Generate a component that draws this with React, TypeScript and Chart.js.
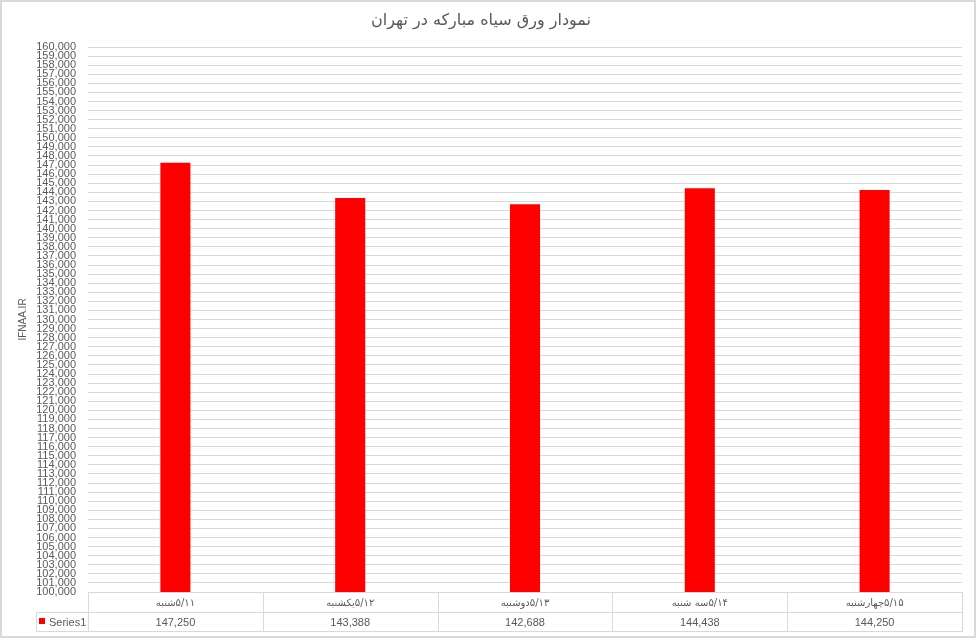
import React, { useEffect, useRef } from "react";
import { Chart, registerables } from "chart.js";

Chart.register(...registerables);

const TITLE = "نمودار ورق سیاه مبارکه در تهران";
const Y_TITLE = "IFNAA.IR";
const SERIES_NAME = "Series1";
const CATEGORIES = ["۵/۱۱شنبه", "۵/۱۲یکشنبه", "۵/۱۳دوشنبه", "۵/۱۴سه شنبه", "۵/۱۵چهارشنبه"];
const VALUES = [147250, 143388, 142688, 144438, 144250];
const Y_MIN = 100000;
const Y_MAX = 160000;
const Y_STEP = 1000;

const TEXT_COLOR = "#595959";
const GRID_COLOR = "#d9d9d9";
const BAR_COLOR = "#ff0000";
const FONT_FAMILY = "'Liberation Sans', 'DejaVu Sans', sans-serif";

const fmt = (v: number) => v.toLocaleString("en-US");

const tablePlugin = {
  id: "dataTable",
  afterDraw(chart: any) {
    const { ctx, chartArea } = chart;
    const xScale = chart.scales.x;
    const labels: string[] = chart.data.labels;
    const values: number[] = chart.data.datasets[0].data;
    const n = labels.length;
    const left = Math.round(chartArea.left);
    const right = Math.round(chartArea.right);
    const colW = (right - left) / n;
    const top = Math.round(chartArea.bottom);
    const rowH = 19.5;
    const mid = Math.round(top + rowH);
    const bottom = Math.round(top + 2 * rowH);
    const legendLeft = 36;

    const line = (x1: number, y1: number, x2: number, y2: number) => {
      ctx.beginPath();
      ctx.moveTo(x1, y1);
      ctx.lineTo(x2, y2);
      ctx.stroke();
    };

    ctx.save();
    ctx.strokeStyle = GRID_COLOR;
    ctx.lineWidth = 1;
    line(left, top + 0.5, right, top + 0.5);
    line(legendLeft, mid + 0.5, right, mid + 0.5);
    line(legendLeft, bottom + 0.5, right, bottom + 0.5);
    for (let i = 0; i <= n; i++) {
      const x = Math.round(left + i * colW) + 0.5;
      line(x, top, x, bottom + 1);
    }
    line(legendLeft + 0.5, mid, legendLeft + 0.5, bottom + 1);

    ctx.fillStyle = TEXT_COLOR;
    ctx.textBaseline = "middle";
    ctx.textAlign = "center";
    for (let i = 0; i < n; i++) {
      const cx = xScale.getPixelForValue(i);
      ctx.font = `10px 'DejaVu Sans', sans-serif`;
      (ctx as any).direction = "rtl";
      ctx.fillText(labels[i], cx, (top + mid) / 2 + 1);
      (ctx as any).direction = "ltr";
      ctx.font = `11px ${FONT_FAMILY}`;
      ctx.fillText(fmt(values[i]), cx, (mid + bottom) / 2 + 1);
    }
    ctx.fillStyle = BAR_COLOR;
    ctx.fillRect(39, 618, 6, 6);
    ctx.fillStyle = TEXT_COLOR;
    ctx.textAlign = "left";
    ctx.font = `11px ${FONT_FAMILY}`;
    ctx.fillText(SERIES_NAME, 49, (mid + bottom) / 2 + 1);

    // outer chart border
    ctx.strokeStyle = GRID_COLOR;
    ctx.lineWidth = 2;
    ctx.strokeRect(1, 1, 974, 636);
    ctx.restore();
  },
};

export default function App() {
  const canvasRef = useRef<HTMLCanvasElement | null>(null);

  useEffect(() => {
    if (!canvasRef.current) return;
    const chart = new Chart(canvasRef.current, {
      type: "bar",
      data: {
        labels: CATEGORIES,
        datasets: [
          {
            label: SERIES_NAME,
            data: VALUES,
            backgroundColor: BAR_COLOR,
            borderWidth: 0,
            categoryPercentage: 1,
            barPercentage: 0.172,
          },
        ],
      },
      options: {
        animation: false,
        responsive: true,
        maintainAspectRatio: false,
        layout: { padding: { left: 0, right: 15, top: 0, bottom: 8 } },
        plugins: {
          legend: { display: false },
          tooltip: { enabled: false },
          title: {
            display: true,
            text: TITLE,
            color: TEXT_COLOR,
            font: { family: "'DejaVu Sans', sans-serif", size: 16, weight: "normal" },
            padding: { top: 11, bottom: 16.8 },
          },
        },
        scales: {
          x: {
            ticks: { display: false },
            grid: { display: false, drawTicks: false },
            border: { display: false },
            afterFit: (scale: any) => {
              scale.height = 39;
            },
          },
          y: {
            min: Y_MIN,
            max: Y_MAX,
            ticks: {
              stepSize: Y_STEP,
              autoSkip: false,
              padding: 12,
              color: TEXT_COLOR,
              font: { family: FONT_FAMILY, size: 11 },
              callback: (v: any) => fmt(Number(v)),
            },
            grid: { color: GRID_COLOR, drawTicks: false, lineWidth: 1 },
            border: { display: false },
            title: {
              display: true,
              text: Y_TITLE,
              color: TEXT_COLOR,
              font: { family: FONT_FAMILY, size: 10 },
              padding: { top: 17, bottom: 0 },
            },
            afterFit: (scale: any) => {
              scale.width = 88;
            },
          },
        },
      },
      plugins: [tablePlugin],
    });
    return () => chart.destroy();
  }, []);

  return (
    <div style={{ position: "absolute", left: 0, top: 0, width: 977, height: 639 }}>
      <canvas ref={canvasRef} />
    </div>
  );
}
